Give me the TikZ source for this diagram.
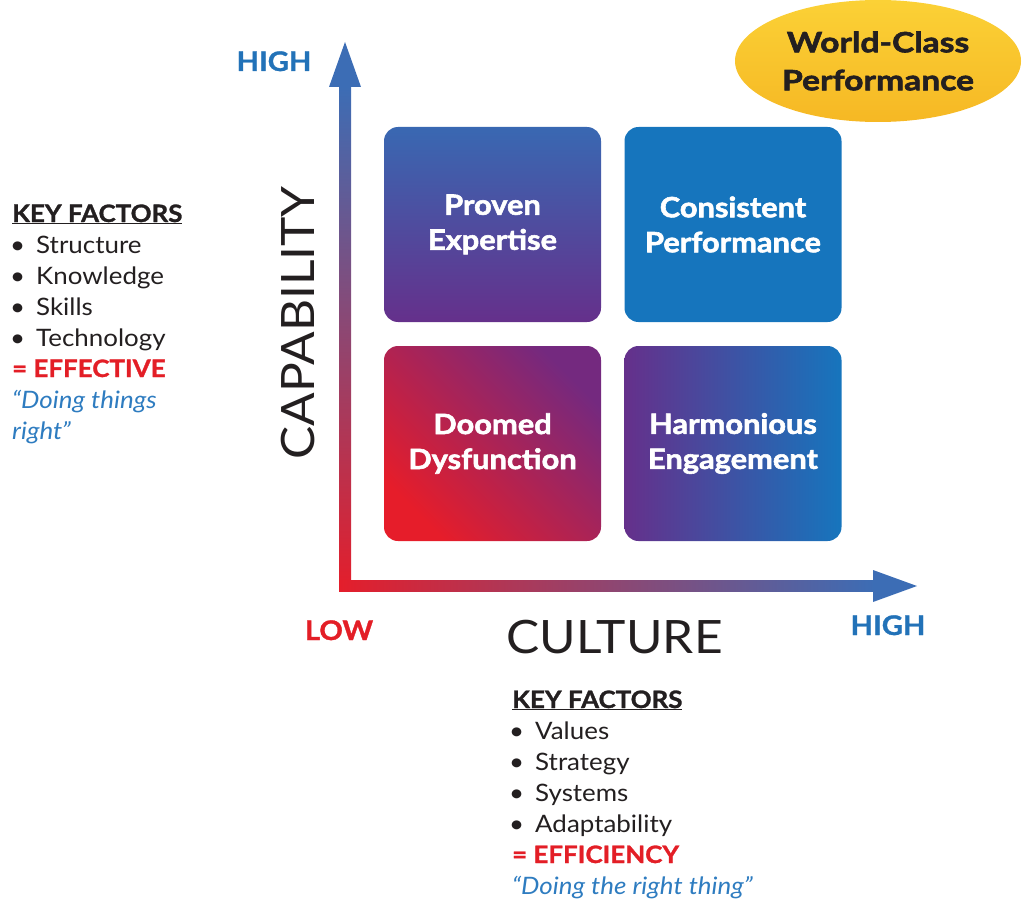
\documentclass[tikz,border=0pt]{standalone}
\usepackage{fontspec}
\setmainfont{Lato}[FakeStretch=1.08, BoldFeatures={FakeBold=1.2}]
\newfontfamily\heavy{Lato}[FakeStretch=1.1, BoldFeatures={FakeBold=2}]
\newfontfamily\heavywide{Lato}[FakeStretch=1.2, BoldFeatures={FakeBold=2.2}]
\usetikzlibrary{shapes.geometric}
\definecolor{axblue}{HTML}{3C6DB5}
\definecolor{axred}{HTML}{E41E2B}
\definecolor{qblue}{HTML}{1675BD}
\definecolor{qblue2}{HTML}{3968B2}
\definecolor{qpurple}{HTML}{65308B}
\definecolor{qpurple2}{HTML}{74297F}
\definecolor{qred}{HTML}{E61D2A}
\definecolor{hiblue}{HTML}{2272B8}
\definecolor{lored}{HTML}{E31E26}
\definecolor{itblue}{HTML}{2E7CC0}
\definecolor{txt}{HTML}{231F20}
\definecolor{goldA}{HTML}{FBD136}
\definecolor{goldB}{HTML}{F6B824}
\begin{document}
\begin{tikzpicture}[x=1pt,y=-1pt,
  quad/.style={rectangle, rounded corners=14pt, minimum width=217pt, minimum height=195pt,
    inner sep=0pt, align=center, text=white, font=\heavy\fontsize{28}{35}\selectfont\bfseries},
  lst/.style={anchor=base west, inner sep=0pt, text=txt, font=\fontsize{24}{31}\selectfont},
  hdr/.style={lst, font=\fontsize{24}{31}\selectfont\bfseries},
  eqs/.style={lst, text=lored, font=\fontsize{24}{31}\selectfont\bfseries},
  quo/.style={lst, text=itblue, font=\fontsize{24}{31}\selectfont\itshape},
  axlab/.style={anchor=base, inner sep=0pt, font=\fontsize{27}{32}\selectfont\bfseries},
  bigl/.style={inner sep=0pt, text=txt, font=\fontsize{46}{50}\selectfont}
]
\useasboundingbox (0,0) rectangle (1024,904);

% axes
\coordinate (org) at (345,585);
\coordinate (ytop) at (345,42);
\coordinate (xend) at (917,586);
\shade[top color=axblue, bottom color=axred] (339,86) rectangle (351,591);
\shade[left color=axred, right color=axblue] (339,580) rectangle (875,591);
\fill[axblue] (ytop) -- (361,87) -- (329,87) -- cycle;
\fill[axblue] (xend) -- (873,570) -- (873,602) -- cycle;

% quadrants
\node[quad, top color=qblue2, bottom color=qpurple] (pe) at (492.5,224.5) {Proven\\Expertise};
\node[quad, fill=qblue] (cp) at (733,224.5) {Consistent\\Performance};
\node[quad, top color=qpurple2, bottom color=qred, shading angle=-45] (dd) at (492.5,443.5) {Doomed\\Dysfunction};
\node[quad, left color=qpurple, right color=qblue] (he) at (733,443.5) {Harmonious\\Engagement};

% world-class ellipse
\node[ellipse, top color=goldA, bottom color=goldB, minimum width=286pt, minimum height=122pt,
  inner sep=0pt, align=center, text=txt, font=\heavywide\fontsize{28}{38}\selectfont\bfseries]
  (wc) at (878,61) {World-Class\\Performance};

% axis labels
\node[axlab, text=hiblue] (yhigh) at (274,71) {HIGH};
\node[axlab, text=lored] (low) at (339,640) {LOW};
\node[axlab, text=hiblue] (xhigh) at (888,635) {HIGH};
\node[bigl, anchor=base] (cult) at (614.5,653) {CULTURE};
\node[bigl, anchor=base, rotate=90] (cap) at (314,323) {CAPABILITY};

% left key factors
\node[hdr] (k1) at (12,222) {\underline{KEY FACTORS}};
\node[lst] (k2) at (10,253) {\makebox[26pt][l]{•}Structure};
\node[lst] (k3) at (10,284) {\makebox[26pt][l]{•}Knowledge};
\node[lst] (k4) at (10,315) {\makebox[26pt][l]{•}Skills};
\node[lst] (k5) at (10,346) {\makebox[26pt][l]{•}Technology};
\node[eqs] (k6) at (12,377) {= EFFECTIVE};
\node[quo] (k7) at (12,408) {“Doing things};
\node[quo] (k8) at (12,439) {right”};

% bottom key factors
\node[hdr] (b1) at (512,708) {\underline{KEY FACTORS}};
\node[lst] (b2) at (509,739) {\makebox[26pt][l]{•}Values};
\node[lst] (b3) at (509,770) {\makebox[26pt][l]{•}Strategy};
\node[lst] (b4) at (509,801) {\makebox[26pt][l]{•}Systems};
\node[lst] (b5) at (509,832) {\makebox[26pt][l]{•}Adaptability};
\node[eqs] (b6) at (512,863) {= EFFICIENCY};
\node[quo] (b7) at (512,894) {“Doing the right thing”};
\end{tikzpicture}
\end{document}
